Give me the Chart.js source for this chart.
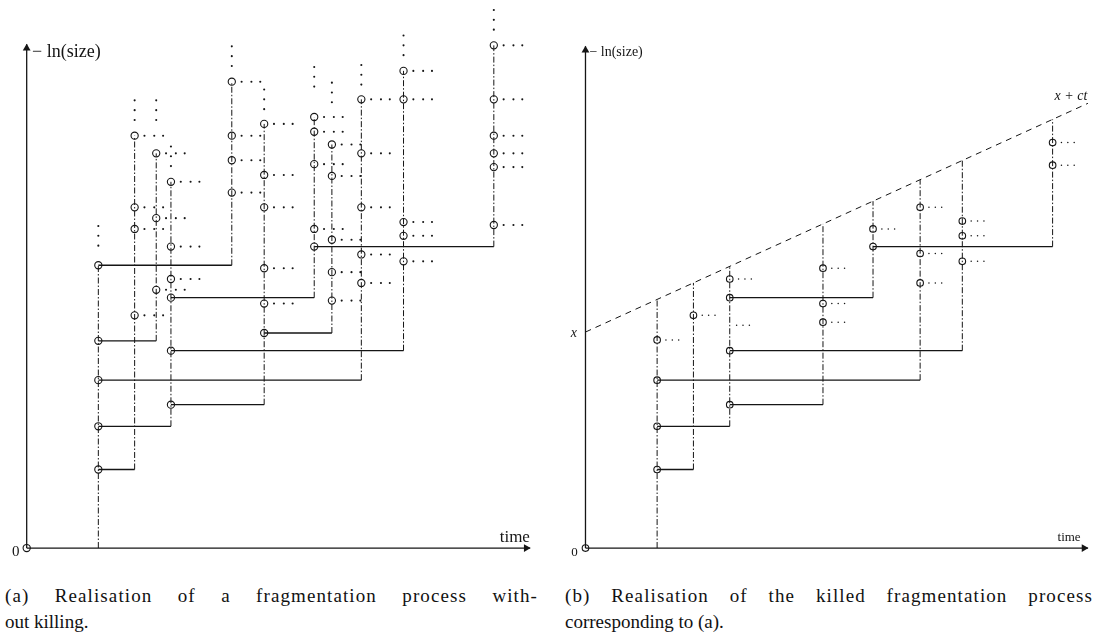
<!DOCTYPE html>
<html>
<head>
<meta charset="utf-8">
<script src="https://cdn.jsdelivr.net/npm/chart.js@4.4.0/dist/chart.umd.min.js"></script>
<style>
  body { margin: 0; background: #fff; width: 1095px; height: 642px; overflow: hidden; position: relative; font-family: "Liberation Serif", serif; }
  #left { position: absolute; left: 0; top: 0; }
  #right { position: absolute; left: 548px; top: 0; }
  .cap { position: absolute; font-size: 19px; color: #111; line-height: 26px; }
  .cap .j { text-align: justify; text-align-last: justify; letter-spacing: 1.1px; }
</style>
</head>
<body>
<canvas id="left" width="547" height="560"></canvas>
<canvas id="right" width="547" height="560"></canvas>
<div class="cap" style="left:5px; top:583px; width:533px;"><div class="j">(a) Realisation of a fragmentation process with-</div><div>out killing.</div></div>
<div class="cap" style="left:565px; top:583px; width:528px;"><div class="j">(b) Realisation of the killed fragmentation process</div><div>corresponding to (a).</div></div>
<script>
// one unit = 10 px on both axes; fragments A..K
const times = [7.3, 11.0, 13.2, 14.7, 20.9, 24.2, 29.3, 31.1, 34.1, 38.4, 47.6];

// (a) heights of the jumps (circles) on each fragment line
const jumpsA = [
  [28.8, 21.1, 17.1, 12.4, 8.0],
  [42.0, 34.7, 32.5, 23.7],
  [40.2, 33.6, 26.3],
  [37.3, 30.7, 27.4, 25.5, 20.1, 14.6],
  [47.5, 42.0, 39.5, 36.2],
  [43.2, 38.0, 34.7, 28.5, 24.9, 21.9],
  [43.9, 42.4, 39.1, 32.5, 30.7],
  [41.1, 37.9, 31.4, 28.1, 25.2],
  [45.7, 40.2, 34.7, 29.9, 27.0],
  [48.6, 45.7, 33.2, 31.8, 29.2],
  [51.2, 45.7, 42.0, 40.2, 38.8, 32.9]
];
// [parent, height, child]
const branchesA = [[0, 8.0, 1], [0, 12.4, 3], [0, 17.1, 8], [0, 21.1, 2], [0, 28.8, 4],
  [3, 14.6, 5], [3, 20.1, 9], [3, 25.5, 6], [5, 21.9, 7], [6, 30.7, 10]];
// lowest of the three dots above each line
const moreA = [30.8, 43.6, 43.6, 38.9, 49.1, 44.7, 47.0, 45.4, 47.2, 50.2, 52.8];

// (b) killing line x + ct
const killX = 22.0;
const killC = 0.455;
const jumpsB = [
  [21.2, 17.1, 12.4, 8.0],
  [23.7],
  null,
  [27.4, 25.5, 20.1, 14.6],
  null,
  [28.5, 24.9, 23.0],
  [32.5, 30.7],
  null,
  [34.7, 30.0, 27.0],
  [33.3, 31.8, 29.2],
  [41.3, 39.0]
];
const branchesB = [[0, 8.0, 1], [0, 12.4, 3], [0, 17.1, 8], [3, 14.6, 5], [3, 20.1, 9], [3, 25.5, 6], [6, 30.7, 10]];
const strayB = [[15.4, 22.7]];

const INK = "#151515";

function seg(points, dash, width) {
  return { type: "line", data: points, borderColor: INK, borderWidth: width || 1, borderDash: dash,
    pointRadius: 0, fill: false, showLine: true, clip: false, order: 5 };
}

function panel(jumps, branches, o) {
  const ds = [];
  const start = jumps.map(() => null);
  start[0] = 0;
  branches.forEach(([p, y, c]) => { start[c] = y; });

  const circles = [];
  const dots = [];
  jumps.forEach((js, i) => {
    if (!js) return;
    const t = times[i];
    const top = o.kill ? killX + killC * t : Math.max(...js);
    ds.push(seg([{ x: t, y: start[i] }, { x: t, y: top }], [6, 2, 1.5, 2], 1));
    js.forEach((y) => {
      circles.push({ x: t, y: y });
      const hasBranch = branches.some(([p, by]) => p === i && by === y);
      if (!hasBranch) o.dotOff.forEach((d) => dots.push({ x: t + d, y: y }));
    });
    if (o.more) [0, 1, 2].forEach((k) => dots.push({ x: t, y: o.more[i] + k }));
  });
  (o.stray || []).forEach(([t, y]) => o.dotOff.forEach((d) => dots.push({ x: t + d - o.dotOff[0], y: y })));

  branches.forEach(([p, y, c]) => ds.push(seg([{ x: times[p], y: y }, { x: times[c], y: y }], [], 1.3)));

  if (o.kill) {
    ds.push(seg([{ x: 0, y: killX }, { x: o.xTip, y: killX + killC * o.xTip }], [6, 5], 1));
  }

  // axes
  ds.push(seg([{ x: 0, y: 0 }, { x: o.xTip, y: 0 }], [], 1.3));
  ds.push(seg([{ x: 0, y: 0 }, { x: 0, y: o.yTip }], [], 1.3));
  ds.push({ type: "scatter", data: [{ x: 0, y: o.yTip - 0.4 }, { x: o.xTip - 0.4, y: 0 }],
    pointStyle: "triangle", pointRotation: [0, 90], pointRadius: 4.5, pointBackgroundColor: INK,
    pointBorderColor: INK, pointBorderWidth: 0, clip: false, order: 1 });

  circles.push({ x: 0, y: 0 });
  ds.push({ type: "scatter", data: circles, pointStyle: "circle", pointRadius: o.r,
    pointBackgroundColor: "rgba(0,0,0,0)", pointBorderColor: INK, pointBorderWidth: 1.1, clip: false, order: 1 });
  ds.push({ type: "scatter", data: dots, pointStyle: "circle", pointRadius: o.dotR,
    pointBackgroundColor: INK, pointBorderWidth: 0, clip: false, order: 1 });
  return ds;
}

const textPlugin = {
  id: "texts",
  afterDatasetsDraw(chart, args, opts) {
    const ctx = chart.ctx;
    const xs = chart.scales.x, ys = chart.scales.y;
    ctx.save();
    ctx.fillStyle = INK;
    ctx.textBaseline = "middle";
    (opts.items || []).forEach((it) => {
      ctx.font = it.font;
      ctx.textAlign = it.align || "left";
      ctx.fillText(it.text, xs.getPixelForValue(it.x), ys.getPixelForValue(it.y));
    });
    ctx.restore();
  }
};

function makeChart(id, datasets, xmin, items) {
  new Chart(document.getElementById(id), {
    type: "scatter",
    data: { datasets: datasets },
    options: {
      responsive: false,
      animation: false,
      events: [],
      layout: { padding: 0 },
      scales: {
        x: { type: "linear", min: xmin, max: xmin + 54.7, display: false },
        y: { type: "linear", min: -0.7, max: 55.3, display: false }
      },
      plugins: { legend: { display: false }, tooltip: { enabled: false }, texts: { items: items } }
    },
    plugins: [textPlugin]
  });
}

const SERIF = '"Liberation Serif", "DejaVu Serif", serif';

makeChart("left", panel(jumpsA, branchesA, { r: 3.6, dotR: 1.05, dotOff: [1.0, 2.0, 2.9], more: moreA, xTip: 51.3, yTip: 51.3 }), -2.2, [
  { text: "\u2212 ln(size)", x: 0.55, y: 50.5, font: "18px " + SERIF },
  { text: "time", x: 48.2, y: 1.1, font: "17px " + SERIF },
  { text: "0", x: -1.5, y: -0.45, font: "15px " + SERIF }
]);

makeChart("right", panel(jumpsB, branchesB, { r: 3.3, dotR: 0.75, dotOff: [0.9, 1.55, 2.2], stray: strayB, kill: true, xTip: 51.2, yTip: 51.1 }), -3.3, [
  { text: "\u2212 ln(size)", x: 0.4, y: 50.5, font: "14px " + SERIF },
  { text: "time", x: 48.1, y: 1.1, font: "13px " + SERIF },
  { text: "0", x: -1.45, y: -0.45, font: "13px " + SERIF },
  { text: "x", x: -1.5, y: 21.9, font: "italic 14px " + SERIF },
  { text: "x + ct", x: 47.8, y: 46.0, font: "italic 14px " + SERIF }
]);
</script>
</body>
</html>
